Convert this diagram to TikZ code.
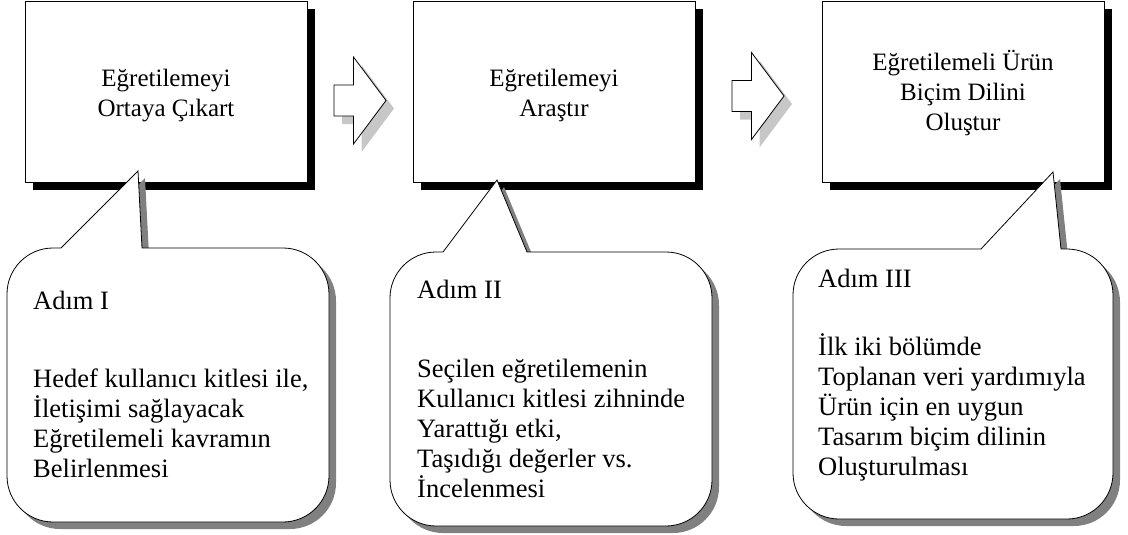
\documentclass[tikz,border=0pt]{standalone}
\usepackage{fontspec}
\setmainfont{Liberation Serif}
\usetikzlibrary{shadows}

% rounded speech bubble with a pointer on its top edge
% #1 left, #2 top, #3 right, #4 bottom, #5 pointer base (left),
% #6 tip x, #7 tip y, #8 pointer base (right); corner radius \bubr,
% corners are quarter circles approximated by Bezier curves (\bubk = 1-0.5523)
\newcommand{\bubr}{46}
\newcommand{\bubk}{0.4477}
\newcommand{\bubblepath}[8]{%
  (#5,#2) -- (#6,#7) -- (#8,#2) -- ({#3-\bubr},#2)
  .. controls ({#3-\bubk*\bubr},#2) and (#3,{#2+\bubk*\bubr}) .. (#3,{#2+\bubr})
  -- (#3,{#4-\bubr})
  .. controls (#3,{#4-\bubk*\bubr}) and ({#3-\bubk*\bubr},#4) .. ({#3-\bubr},#4)
  -- ({#1+\bubr},#4)
  .. controls ({#1+\bubk*\bubr},#4) and (#1,{#4-\bubk*\bubr}) .. (#1,{#4-\bubr})
  -- (#1,{#2+\bubr})
  .. controls (#1,{#2+\bubk*\bubr}) and ({#1+\bubk*\bubr},#2) .. ({#1+\bubr},#2)
  -- cycle}
\newcommand{\speechbubble}[8]{%
  \fill[bubbleshadow, shift={(7,7)}] \bubblepath{#1}{#2}{#3}{#4}{#5}{#6}{#7}{#8};
  \filldraw[bubble] \bubblepath{#1}{#2}{#3}{#4}{#5}{#6}{#7}{#8};
}

\begin{document}
\begin{tikzpicture}[x=1pt, y=-1pt,
  outline/.style={draw=black, line width=0.8pt},
  stepbox/.style={outline, fill=white, rectangle, inner sep=0pt,
    minimum width=282pt, minimum height=181pt,
    general shadow={fill=black, shadow xshift=8pt, shadow yshift=-8pt}},
  boxtext/.style={font=\fontsize{25}{30}\selectfont, inner sep=0pt, anchor=base},
  notetext/.style={font=\fontsize{26.5}{30}\selectfont, inner sep=0pt, anchor=base west},
  arrowshadow/.style={fill=black!22},
  bubbleshadow/.style={fill=black!50},
  bubble/.style={outline, fill=white, line join=miter},
  blockarrow/.style={outline, fill=white, line join=miter},
  flowarrow/.pic={
    \fill[arrowshadow, shift={(8,8)}]
      (0,-15.5) -- (19.5,-15.5) -- (19.5,-43.5) -- (52,0) -- (19.5,43.5)
      -- (19.5,15.5) -- (0,15.5) -- cycle;
    \filldraw[blockarrow]
      (0,-15.5) -- (19.5,-15.5) -- (19.5,-43.5) -- (52,0) -- (19.5,43.5)
      -- (19.5,15.5) -- (0,15.5) -- cycle;
  }
]
\useasboundingbox (0,0) rectangle (1128,535);

% the three step boxes
\node[stepbox] (box1) at (166,91.5) {};
\node[stepbox] (box2) at (554,91.5) {};
\node[stepbox] (box3) at (963,91.5) {};

\node[boxtext] (title1) at (166,87)
  {\begin{tabular}[t]{@{}c@{}}Eğretilemeyi\\Ortaya Çıkart\end{tabular}};
\node[boxtext] (title2) at (554,87)
  {\begin{tabular}[t]{@{}c@{}}Eğretilemeyi\\Araştır\end{tabular}};
\node[boxtext] (title3) at (963,71)
  {\begin{tabular}[t]{@{}c@{}}Eğretilemeli Ürün\\Biçim Dilini\\Oluştur\end{tabular}};

% block arrows between the steps
\pic at (334,100.5) {flowarrow};
\pic at (732,96) {flowarrow};

% explanation bubbles
\speechbubble{7}{248}{329}{522}{61}{138}{171}{142}
\speechbubble{390}{252}{712}{526}{443}{497}{180}{527}
\speechbubble{793}{249}{1113}{519}{981}{1053}{172}{1061}

\node[notetext] (head1) at (33,309) {Adım I};
\node[notetext] (note1) at (33,387)
  {\begin{tabular}[t]{@{}l@{}}Hedef kullanıcı kitlesi ile,\\İletişimi sağlayacak\\Eğretilemeli kavramın\\Belirlenmesi\end{tabular}};

\node[notetext] (head2) at (417,298) {Adım II};
\node[notetext] (note2) at (417,377)
  {\begin{tabular}[t]{@{}l@{}}Seçilen eğretilemenin\\Kullanıcı kitlesi zihninde\\Yarattığı etki,\\Taşıdığı değerler vs.\\İncelenmesi\end{tabular}};

\node[notetext] (head3) at (818,287) {Adım III};
\node[notetext] (note3) at (818,355)
  {\begin{tabular}[t]{@{}l@{}}İlk iki bölümde\\Toplanan veri yardımıyla\\Ürün için en uygun\\Tasarım biçim dilinin\\Oluşturulması\end{tabular}};
\end{tikzpicture}
\end{document}
